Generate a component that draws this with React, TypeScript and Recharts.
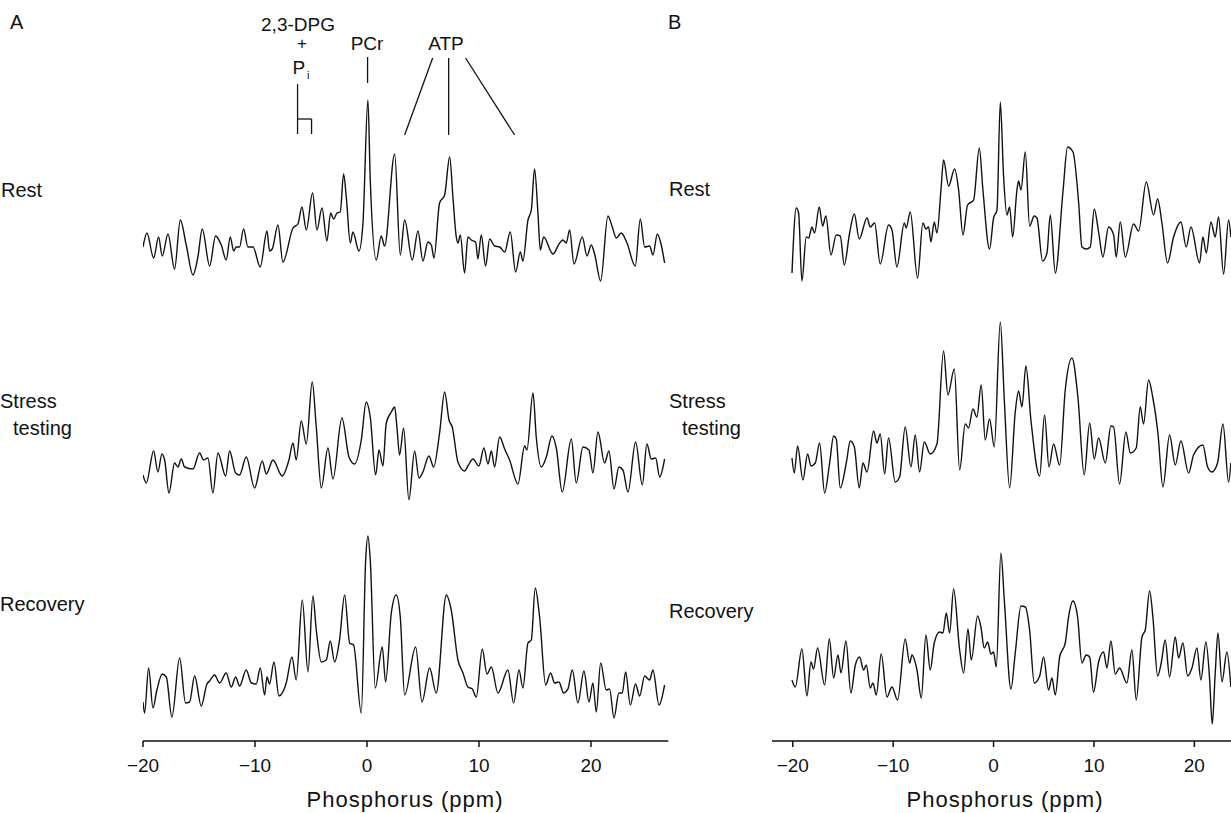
import React from 'react';
import { LineChart, Line, XAxis, YAxis, ReferenceLine } from 'recharts';

// spectra: [ppm, signal (arbitrary units)]
const restA: [number, number][] = [
  [-20.0, 43], [-19.65, 57], [-19.05, 32], [-18.61, 53], [-18.28, 34], [-17.77, 56], [-17.18, 21], [-16.67, 70],
  [-16.14, 45], [-15.54, 15], [-15.1, 33], [-14.71, 61], [-14.05, 24], [-13.52, 54], [-13.01, 45], [-12.57, 30],
  [-12.21, 53], [-11.91, 39], [-11.67, 43], [-11.38, 43], [-11.02, 61], [-10.63, 43], [-10.18, 43], [-9.53, 23],
  [-8.93, 59], [-8.7, 39], [-8.46, 41], [-7.95, 65], [-7.51, 28], [-6.61, 62], [-6.17, 66], [-5.81, 83],
  [-5.42, 60], [-4.86, 97], [-4.47, 60], [-4.02, 82], [-3.58, 49], [-3.25, 77], [-2.98, 71], [-2.68, 77],
  [-2.39, 78], [-2.09, 116], [-1.85, 93], [-1.49, 47], [-1.26, 58], [-0.72, 39], [-0.36, 67], [0.08, 190],
  [0.29, 110], [0.83, 30], [1.27, 54], [1.57, 44], [2.47, 136], [2.97, 35], [3.36, 70], [4.04, 30],
  [4.55, 59], [4.99, 29], [5.44, 48], [5.74, 45], [5.98, 32], [6.48, 87], [6.93, 95], [7.38, 133],
  [7.67, 93], [7.97, 53], [8.12, 47], [8.33, 55], [8.71, 17], [9.01, 53], [9.31, 50], [9.7, 48],
  [9.9, 31], [10.2, 55], [10.59, 24], [10.95, 51], [11.39, 44], [11.84, 43], [12.29, 38], [12.79, 58],
  [13.27, 18], [13.69, 38], [13.92, 29], [14.37, 70], [14.67, 80], [14.96, 121], [15.26, 77], [15.47, 40],
  [15.77, 53], [16.6, 36], [17.2, 47], [17.49, 50], [17.79, 47], [18.09, 60], [18.48, 26], [19.22, 53],
  [19.64, 34], [20.02, 45], [20.32, 36], [20.86, 9], [21.51, 74], [21.9, 63], [22.26, 52], [22.7, 57],
  [23.21, 47], [23.95, 24], [24.4, 71], [24.79, 43], [25.23, 44], [25.53, 35], [25.92, 56], [26.27, 45],
  [26.57, 27],
];

const stressA: [number, number][] = [
  [-20.0, 25], [-19.71, 17], [-19.05, 49], [-18.67, 28], [-18.31, 46], [-18.07, 40], [-17.68, 7], [-17.18, 37],
  [-16.88, 33], [-16.58, 41], [-16.29, 33], [-15.54, 31], [-14.95, 47], [-14.59, 40], [-14.2, 42], [-13.76, 7],
  [-13.31, 47], [-12.62, 24], [-12.27, 49], [-11.73, 27], [-11.38, 25], [-10.78, 43], [-10.04, 12], [-9.35, 39],
  [-8.99, 26], [-8.4, 40], [-7.57, 24], [-6.97, 40], [-6.61, 57], [-6.32, 40], [-5.87, 79], [-5.42, 56],
  [-4.89, 118], [-4.53, 73], [-4.08, 12], [-3.49, 52], [-3.04, 21], [-2.24, 82], [-1.61, 43], [-1.11, 36],
  [-0.51, 60], [-0.07, 98], [0.29, 83], [0.77, 25], [1.07, 50], [1.42, 34], [1.72, 77], [2.17, 88],
  [2.47, 93], [2.67, 73], [2.91, 45], [3.27, 72], [3.74, 0], [4.25, 49], [4.64, 22], [4.99, 28],
  [5.53, 44], [5.95, 33], [6.48, 67], [6.93, 108], [7.32, 80], [7.61, 73], [8.12, 38], [8.71, 29],
  [9.01, 34], [9.46, 41], [9.99, 34], [10.44, 52], [10.8, 36], [11.1, 49], [11.39, 33], [11.84, 63],
  [12.29, 51], [12.73, 40], [13.48, 16], [14.07, 54], [14.28, 50], [14.82, 107], [15.11, 63], [15.56, 33],
  [16.01, 43], [16.51, 64], [16.9, 52], [17.43, 8], [18.24, 61], [18.68, 17], [19.28, 53], [19.82, 50],
  [20.17, 27], [20.62, 68], [21.21, 37], [21.6, 49], [22.05, 11], [22.49, 33], [22.85, 30], [23.3, 8],
  [23.98, 58], [24.58, 15], [24.99, 56], [25.38, 41], [25.77, 42], [26.13, 23], [26.57, 41],
];

const recoveryA: [number, number][] = [
  [-20.0, 18], [-19.86, 7], [-19.5, 52], [-19.11, 12], [-18.76, 30], [-18.28, 46], [-17.92, 43], [-17.42, 3],
  [-16.73, 62], [-16.2, 17], [-15.84, 18], [-15.39, 44], [-14.8, 14], [-14.29, 36], [-14.05, 39], [-13.61, 45],
  [-13.16, 37], [-12.57, 47], [-12.12, 33], [-11.73, 43], [-11.38, 34], [-10.78, 50], [-10.33, 37], [-9.89, 36],
  [-9.53, 52], [-9.14, 25], [-8.93, 43], [-8.7, 36], [-8.31, 58], [-7.86, 24], [-7.21, 37], [-6.7, 63],
  [-6.32, 40], [-5.78, 120], [-5.27, 48], [-4.83, 124], [-4.53, 90], [-4.08, 58], [-3.64, 60], [-3.28, 79],
  [-2.89, 58], [-2.45, 80], [-2.0, 125], [-1.55, 77], [-1.2, 75], [-0.51, 7], [-0.12, 160], [0.08, 184],
  [0.29, 160], [0.74, 32], [1.36, 73], [1.66, 38], [2.17, 107], [2.61, 125], [2.97, 103], [3.36, 25],
  [4.34, 73], [4.91, 18], [5.59, 52], [6.18, 27], [7.08, 125], [7.52, 110], [8.12, 60], [8.57, 47],
  [9.01, 33], [9.4, 31], [9.76, 23], [10.29, 71], [10.71, 46], [11.1, 53], [11.69, 27], [12.58, 50],
  [13.09, 17], [13.57, 50], [13.92, 32], [14.37, 77], [14.67, 80], [15.02, 132], [15.41, 103], [15.95, 35],
  [16.39, 47], [16.75, 37], [17.14, 38], [17.55, 27], [17.94, 31], [18.33, 50], [18.83, 17], [19.37, 49],
  [19.82, 18], [20.17, 37], [20.47, 8], [20.86, 57], [21.36, 30], [21.66, 31], [22.05, 2], [22.49, 27],
  [22.79, 27], [23.09, 48], [23.51, 15], [23.98, 36], [24.34, 24], [24.79, 44], [25.23, 40], [25.53, 50],
  [26.07, 15], [26.57, 35],
];

const restB: [number, number][] = [
  [-20.08, 17], [-19.65, 82], [-19.42, 77], [-19.09, 9], [-18.66, 53], [-18.42, 52], [-18.09, 63], [-17.83, 57],
  [-17.36, 83], [-17.03, 64], [-16.7, 74], [-16.2, 35], [-15.67, 55], [-15.27, 54], [-14.87, 25], [-14.34, 57],
  [-13.87, 76], [-13.38, 51], [-12.61, 72], [-12.28, 63], [-11.85, 67], [-11.29, 26], [-10.46, 65], [-10.12, 60],
  [-9.63, 23], [-8.89, 67], [-8.7, 62], [-8.3, 78], [-7.57, 12], [-7.04, 67], [-6.74, 61], [-6.47, 63],
  [-6.24, 48], [-5.91, 68], [-5.64, 57], [-5.24, 100], [-4.98, 130], [-4.48, 104], [-3.88, 121], [-3.48, 100],
  [-3.05, 55], [-2.59, 85], [-1.99, 90], [-1.42, 142], [-1.06, 100], [-0.4, 41], [0.0, 72], [0.34, 80],
  [0.67, 188], [1.0, 113], [1.33, 75], [1.6, 83], [1.9, 53], [2.33, 100], [2.49, 109], [2.73, 100],
  [3.16, 138], [3.59, 64], [4.05, 74], [4.32, 72], [4.88, 29], [5.32, 37], [5.65, 75], [6.15, 17],
  [6.91, 98], [7.37, 143], [7.91, 138], [8.47, 88], [8.8, 43], [9.23, 41], [9.63, 43], [10.03, 81],
  [10.46, 58], [10.89, 33], [11.46, 63], [11.96, 55], [12.22, 33], [12.62, 68], [13.12, 33], [13.95, 66],
  [14.45, 59], [15.21, 108], [15.94, 75], [16.34, 91], [16.77, 67], [17.33, 27], [17.93, 53], [18.66, 68],
  [19.19, 43], [19.66, 63], [20.52, 27], [20.85, 53], [21.19, 37], [21.65, 68], [22.08, 53], [22.41, 73],
  [22.91, 16], [23.41, 70], [23.64, 53],
];

const stressB: [number, number][] = [
  [-20.08, 42], [-19.85, 27], [-19.52, 54], [-18.99, 20], [-18.52, 46], [-18.19, 34], [-17.76, 37], [-17.33, 57],
  [-16.83, 7], [-16.33, 37], [-15.93, 64], [-15.67, 61], [-15.27, 12], [-14.67, 37], [-14.27, 59], [-13.87, 53],
  [-13.38, 12], [-13.01, 37], [-12.61, 28], [-11.95, 69], [-11.62, 57], [-11.29, 66], [-10.85, 26], [-10.46, 62],
  [-9.79, 18], [-9.36, 23], [-8.8, 73], [-8.23, 33], [-7.8, 65], [-7.37, 28], [-6.9, 58], [-6.31, 46],
  [-5.64, 56], [-4.98, 149], [-4.55, 105], [-3.91, 131], [-3.38, 30], [-2.82, 76], [-2.49, 72], [-2.06, 91],
  [-1.66, 83], [-1.23, 115], [-0.83, 60], [-0.4, 81], [0.07, 53], [0.67, 178], [1.07, 100], [1.6, 12],
  [2.16, 88], [2.49, 109], [2.83, 93], [3.22, 134], [3.72, 80], [4.59, 24], [5.08, 85], [5.52, 33],
  [5.98, 56], [6.58, 35], [7.14, 110], [7.81, 142], [8.4, 103], [9.03, 25], [9.57, 77], [10.03, 41],
  [10.46, 62], [11.13, 37], [11.69, 74], [11.96, 73], [12.55, 16], [13.18, 68], [13.62, 47], [14.21, 52],
  [14.61, 93], [14.94, 76], [15.44, 120], [15.87, 102], [16.37, 67], [16.87, 13], [17.53, 65], [18.1, 35],
  [18.66, 59], [19.43, 27], [19.92, 45], [20.85, 55], [21.32, 33], [21.75, 28], [22.31, 37], [22.85, 76],
  [23.41, 18], [23.64, 37],
];

const recoveryB: [number, number][] = [
  [-20.08, 50], [-19.75, 43], [-19.09, 81], [-18.59, 34], [-18.19, 68], [-17.93, 61], [-17.53, 82], [-16.83, 45],
  [-16.36, 91], [-15.93, 52], [-15.5, 75], [-15.2, 57], [-14.7, 89], [-14.21, 37], [-13.77, 65], [-13.34, 73],
  [-12.95, 60], [-12.68, 65], [-12.28, 42], [-12.02, 47], [-11.68, 35], [-11.19, 76], [-10.62, 33], [-10.12, 43],
  [-9.56, 30], [-8.8, 91], [-8.36, 67], [-8.13, 75], [-7.63, 60], [-7.2, 32], [-6.74, 95], [-6.31, 60],
  [-5.91, 87], [-5.38, 98], [-5.04, 97], [-4.71, 117], [-4.38, 97], [-3.98, 141], [-3.38, 80], [-2.98, 57],
  [-2.55, 101], [-2.22, 70], [-1.59, 114], [-1.26, 103], [-0.93, 82], [-0.59, 88], [-0.26, 76], [0.0, 78],
  [0.27, 63], [0.73, 177], [1.07, 130], [1.73, 41], [2.16, 77], [2.73, 124], [3.16, 123], [3.59, 100],
  [4.05, 47], [4.59, 54], [4.98, 73], [5.48, 40], [5.81, 52], [6.15, 35], [6.58, 73], [7.14, 87],
  [7.47, 113], [7.91, 129], [8.37, 113], [8.8, 67], [9.23, 75], [9.57, 73], [9.96, 38], [10.46, 68],
  [10.96, 78], [11.29, 62], [11.69, 89], [12.12, 56], [12.55, 62], [13.28, 47], [13.78, 80], [14.21, 30],
  [14.78, 93], [15.11, 100], [15.54, 139], [15.87, 113], [16.34, 54], [16.7, 67], [17.1, 90], [17.53, 53],
  [18.1, 93], [18.43, 72], [18.86, 87], [19.33, 54], [19.76, 62], [20.26, 82], [20.65, 50], [21.15, 88],
  [21.52, 51], [21.78, 6], [22.08, 57], [22.35, 97], [22.75, 48], [23.24, 78], [23.64, 43],
];

const ticks = [-20, -10, 0, 10, 20];

// peak assignment markers over the resting spectrum of panel A: [ppm1, y1, ppm2, y2]
const markers: [number, number, number, number][] = [
  [-6.2, 206, -6.2, 156],
  [-6.2, 171, -4.95, 171],
  [-4.95, 171, -4.95, 156],
  [0.05, 233, 0.05, 207],
  [5.86, 232, 3.36, 155],
  [7.29, 232, 7.29, 155],
  [8.8, 232, 13.18, 155],
];

const FONT = '"Liberation Sans", Arial, Helvetica, sans-serif';
const INK = '#111';

const A_LEFT = 143.4;
const A_WIDTH = 525.3;
const A_DOMAIN: [number, number] = [-20, 26.9];
const B_LEFT = 771.7;
const B_WIDTH = 459.3;
const B_DOMAIN: [number, number] = [-22.07, 23.68];
const AXIS_Y = 741;

const fmt = (v: number) => (v < 0 ? `\u2212${-v}` : `${v}`);

type TraceProps = {
  points: [number, number][];
  left: number;
  width: number;
  domain: [number, number];
  baseY: number;
  span: number;
  children?: React.ReactNode;
};

const Trace = ({ points, left, width, domain, baseY, span, children }: TraceProps) => {
  const pad = 4;
  const data = points.map(([ppm, v]) => ({ ppm, v }));
  return (
    <div style={{ position: 'absolute', left, top: baseY - span - pad }}>
      <LineChart width={width} height={span + pad * 2} data={data} margin={{ top: pad, bottom: pad, left: 0, right: 0 }}>
        <XAxis type="number" dataKey="ppm" domain={domain} allowDataOverflow hide />
        <YAxis type="number" domain={[0, span]} allowDataOverflow hide />
        <Line type="monotone" dataKey="v" stroke={INK} strokeWidth={1.4} dot={false} isAnimationActive={false} />
        {children}
      </LineChart>
    </div>
  );
};

const Axis = ({ left, width, domain }: { left: number; width: number; domain: [number, number] }) => {
  const m = 30;
  return (
    <div style={{ position: 'absolute', left: left - m, top: AXIS_Y - 40 }}>
      <LineChart width={width + m * 2} height={90} data={ticks.map((t) => ({ ppm: t }))} margin={{ top: 30, bottom: 0, left: m, right: m }}>
        <XAxis
          type="number"
          dataKey="ppm"
          domain={domain}
          allowDataOverflow
          ticks={ticks}
          interval={0}
          height={50}
          tickSize={6}
          tickMargin={12}
          tickFormatter={fmt}
          axisLine={{ stroke: INK, strokeWidth: 1.5 }}
          tickLine={{ stroke: INK, strokeWidth: 1.5 }}
          tick={{ fill: INK, fontSize: 19, fontFamily: FONT }}
        />
        <YAxis hide domain={[0, 1]} />
      </LineChart>
    </div>
  );
};

const Txt = ({ x, y, size = 20, center = false, children }: { x: number; y: number; size?: number; center?: boolean; children: React.ReactNode }) => (
  <div
    style={{
      position: 'absolute',
      left: x,
      top: y,
      transform: center ? 'translate(-50%, -50%)' : 'translateY(-50%)',
      fontFamily: FONT,
      fontSize: size,
      lineHeight: 1,
      color: INK,
      whiteSpace: 'nowrap',
    }}
  >
    {children}
  </div>
);

export default function App() {
  return (
    <div style={{ position: 'absolute', left: 0, top: 0, width: 1231, height: 813, overflow: 'hidden', background: '#fff' }}>
      <Txt x={10} y={22}>A</Txt>
      <Txt x={668} y={22}>B</Txt>

      <Txt x={298} y={24} size={19} center>2,3-DPG</Txt>
      <Txt x={302} y={43} size={17} center>+</Txt>
      <Txt x={301} y={67} size={19} center>
        <span>P</span>
        <span style={{ fontSize: 11, position: 'relative', top: 5, marginLeft: 2, color: INK }}>i</span>
      </Txt>
      <Txt x={367} y={43} size={19} center>PCr</Txt>
      <Txt x={446} y={43} size={19} center>ATP</Txt>

      <Txt x={1} y={190}>Rest</Txt>
      <Txt x={0} y={401}>Stress</Txt>
      <Txt x={13} y={428}>testing</Txt>
      <Txt x={0} y={604}>Recovery</Txt>

      <Txt x={669} y={189}>Rest</Txt>
      <Txt x={669} y={401}>Stress</Txt>
      <Txt x={682} y={428}>testing</Txt>
      <Txt x={669} y={611}>Recovery</Txt>

      <Trace points={restA} left={A_LEFT} width={A_WIDTH} domain={A_DOMAIN} baseY={290} span={290}>
        {markers.map(([x1, y1, x2, y2], i) => (
          <ReferenceLine
            key={i}
            segment={[{ x: x1, y: y1 }, { x: x2, y: y2 }]}
            stroke={INK}
            strokeWidth={1.3}
            ifOverflow="visible"
          />
        ))}
      </Trace>
      <Trace points={stressA} left={A_LEFT} width={A_WIDTH} domain={A_DOMAIN} baseY={500} span={140} />
      <Trace points={recoveryA} left={A_LEFT} width={A_WIDTH} domain={A_DOMAIN} baseY={720} span={190} />
      <Axis left={A_LEFT} width={A_WIDTH} domain={A_DOMAIN} />

      <Trace points={restB} left={B_LEFT} width={B_WIDTH} domain={B_DOMAIN} baseY={290} span={200} />
      <Trace points={stressB} left={B_LEFT} width={B_WIDTH} domain={B_DOMAIN} baseY={500} span={200} />
      <Trace points={recoveryB} left={B_LEFT} width={B_WIDTH} domain={B_DOMAIN} baseY={730} span={230} />
      <Axis left={B_LEFT} width={B_WIDTH} domain={B_DOMAIN} />

      <Txt x={405} y={800} size={22} center>
        <span style={{ letterSpacing: 1 }}>Phosphorus (ppm)</span>
      </Txt>
      <Txt x={1005} y={800} size={22} center>
        <span style={{ letterSpacing: 1 }}>Phosphorus (ppm)</span>
      </Txt>
    </div>
  );
}
